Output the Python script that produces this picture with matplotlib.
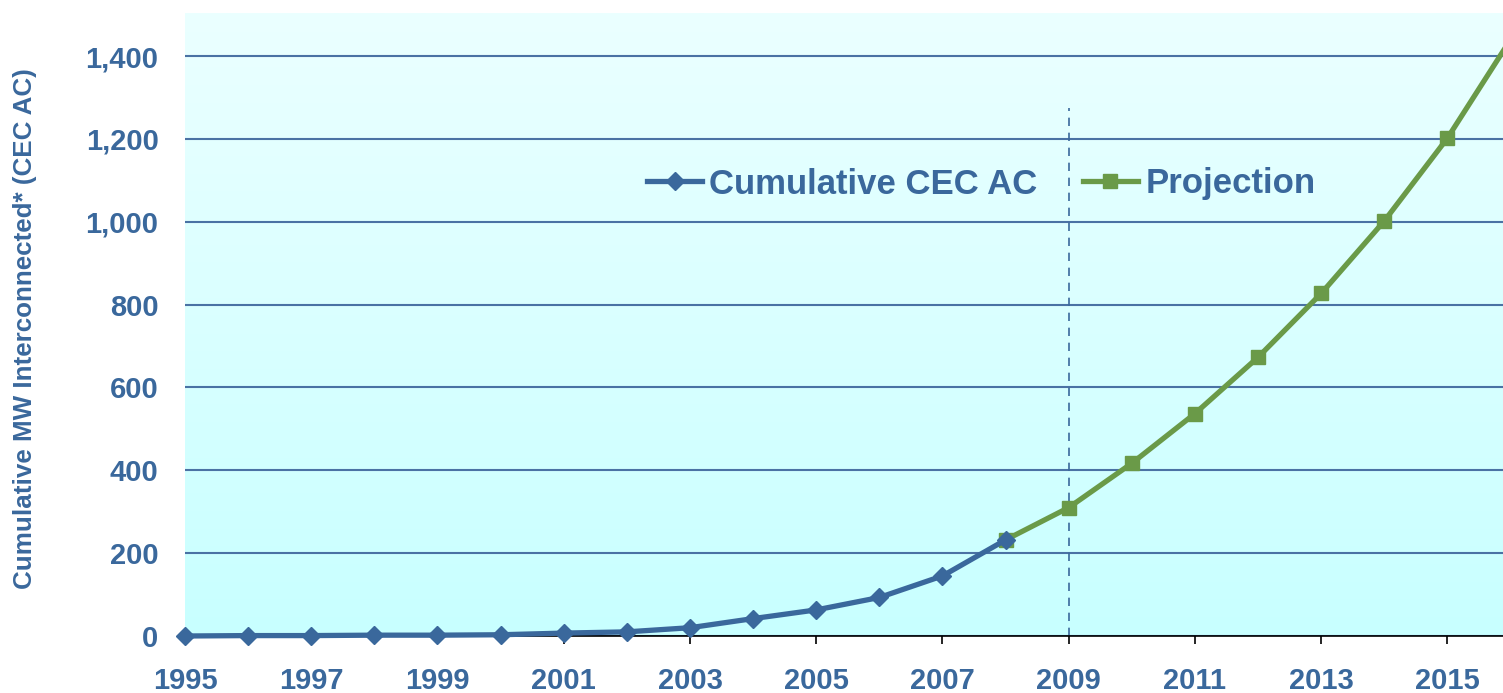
import numpy as np
import matplotlib
matplotlib.use("Agg")
import matplotlib.pyplot as plt
from matplotlib.colors import LinearSegmentedColormap
from matplotlib.ticker import FuncFormatter, MultipleLocator

# Data
hist_years = [1995, 1996, 1997, 1998, 1999, 2000, 2001, 2002, 2003, 2004, 2005, 2006, 2007, 2008]
hist_mw = [0, 1, 1, 2, 2, 3, 7, 10, 20, 42, 63, 93, 145, 232]
proj_years = [2008, 2009, 2010, 2011, 2012, 2013, 2014, 2015, 2016]
proj_mw = [232, 310, 417, 537, 673, 827, 1002, 1202, 1440]
cut_year = 2009

blue = "#3a689c"
green = "#6a9a48"
plt.rcParams['font.family'] = ['Liberation Sans', 'DejaVu Sans']

fig = plt.figure(figsize=(15.03, 6.93), dpi=100)
ax = fig.add_axes([185 / 1503, 57 / 693, 1 - 185 / 1503, 623 / 693])

xmin, xmax = 1995, 2015.88
ymin, ymax = 0, 1504
ax.set_xlim(xmin, xmax)
ax.set_ylim(ymin, ymax)

# gradient background
cmap = LinearSegmentedColormap.from_list("bg", ["#c8ffff", "#ebffff"])
grad = np.linspace(0, 1, 256).reshape(-1, 1)
ax.imshow(grad, cmap=cmap, aspect="auto", origin="lower",
          extent=[xmin, xmax, ymin, ymax], zorder=0)

ax.yaxis.set_major_locator(MultipleLocator(200))
ax.grid(axis="y", color="#4a72a4", lw=1.5, zorder=1)
ax.set_axisbelow(True)

ax.axvline(cut_year, ymax=1275 / ymax, color=blue, lw=1.2, ls=(0, (5, 4)), zorder=2)

ax.plot(hist_years, hist_mw, color=blue, lw=3.8, marker="D", ms=9,
        label="Cumulative CEC AC", zorder=4, clip_on=False)
ax.plot(proj_years, proj_mw, color=green, lw=3.8, marker="s", ms=10,
        label="Projection", zorder=3)

for s in ["top", "right", "left"]:
    ax.spines[s].set_visible(False)
ax.spines["bottom"].set_color("black")
ax.spines["bottom"].set_linewidth(1.2)
ax.spines["bottom"].set_zorder(2)

ax.set_xticks(range(1995, 2016, 2))
ax.tick_params(axis="x", direction="out", length=6, width=1.2, color="black",
               pad=16, labelsize=21, labelcolor=blue)
ax.tick_params(axis="y", length=0, pad=19, labelsize=21, labelcolor=blue)
for lbl in ax.get_xticklabels() + ax.get_yticklabels():
    lbl.set_fontweight("bold")
ax.yaxis.set_major_formatter(FuncFormatter(lambda v, p: f"{int(v):,}"))

fig.text(25 / 1503, 0.5 + (693 / 2 - 329) / 693, "Cumulative MW Interconnected* (CEC AC)",
         rotation=90, ha="center", va="center", fontsize=18.7, fontweight="bold", color=blue)

leg = ax.legend(loc="center", bbox_to_anchor=((981 - 185) / 1318, 1 - (184 - 13) / 623),
                ncol=2, frameon=False, handlelength=1.6, columnspacing=1.3,
                handletextpad=0.2, prop={"size": 25, "weight": "bold"})
for t in leg.get_texts():
    t.set_color(blue)

fig.savefig("out.png", dpi=100)
